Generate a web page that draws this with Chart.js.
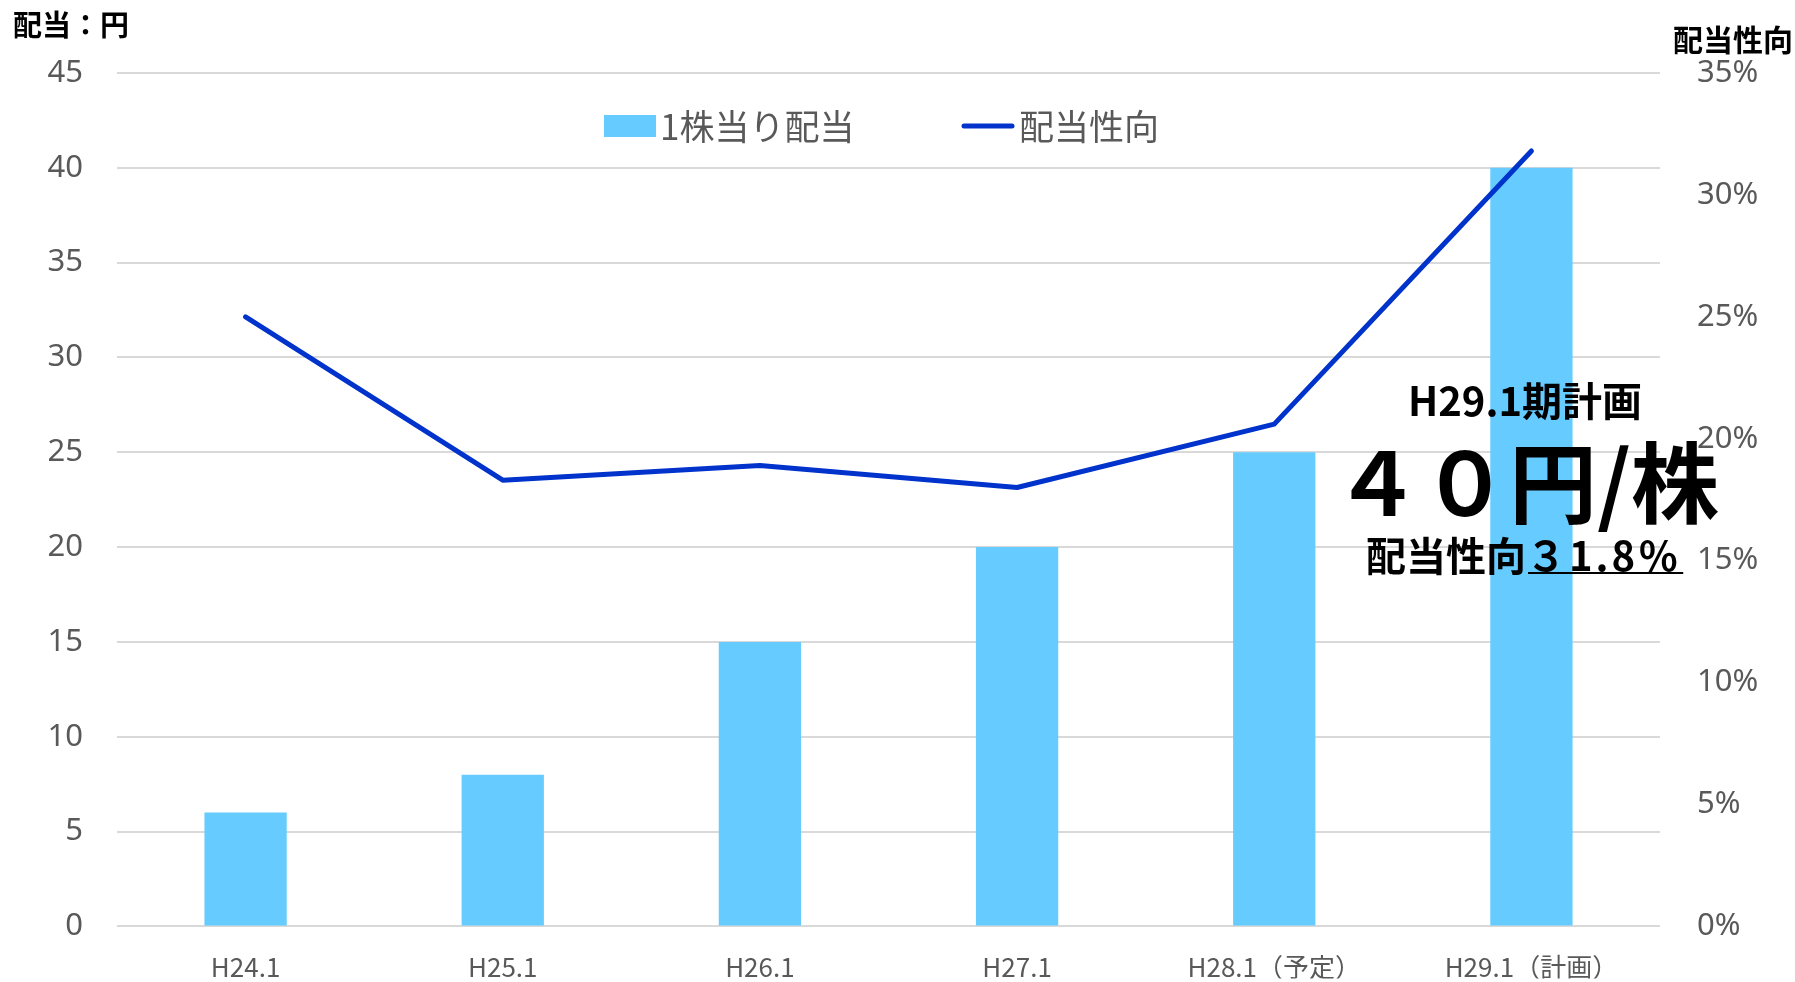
<!DOCTYPE html>
<html>
<head>
<meta charset="utf-8">
<script src="https://cdn.jsdelivr.net/npm/chart.js@4"></script>
<style>
    html, body { margin: 0; padding: 0; background: #fff; }
    #wrap { width: 1795px; height: 982px; }
</style>
</head>
<body>
<div id="wrap"><canvas id="dividend-chart" width="1795" height="982"></canvas></div>
<script>
// data
const categories = ["H24.1", "H25.1", "H26.1", "H27.1", "H28.1（予定）", "H29.1（計画）"];
const dividendPerShare = [6, 8, 15, 20, 25, 40];
const payoutRatio = [25.0, 18.3, 18.9, 18.0, 20.6, 31.8];
const leftTicks = [0, 5, 10, 15, 20, 25, 30, 35, 40, 45];
const rightTicks = [0, 5, 10, 15, 20, 25, 30, 35];

const barLabel = "1株当り配当";
const lineLabel = "配当性向";
const barColor = "#66CCFF";
const lineColor = "#0033CC";
const tickColor = "#595959";
const gridColor = "#D9D9D9";

// legend, axis titles and the callout text
const overlayPlugin = {
    id: "overlay",
    afterDraw(chart) {
        const c = chart.ctx;
        c.save();
        c.textBaseline = "middle";

        c.fillStyle = "#000";
        c.textAlign = "left";
        c.font = "bold 29px 'Noto Sans CJK JP'";
        c.fillText("配当：円", 13, 25);
        c.font = "bold 30px 'Noto Sans CJK JP'";
        c.fillText("配当性向", 1673, 40);

        // legend
        c.font = "35px 'Noto Sans CJK JP'";
        c.fillStyle = barColor;
        c.fillRect(604, 115, 52, 22);
        c.fillStyle = tickColor;
        c.fillText(barLabel, 660, 127);
        c.strokeStyle = lineColor;
        c.lineWidth = 5;
        c.lineCap = "round";
        c.beginPath();
        c.moveTo(964, 126);
        c.lineTo(1012, 126);
        c.stroke();
        c.fillText(lineLabel, 1019, 127);

        // callout
        c.fillStyle = "#000";
        c.textAlign = "center";
        c.font = "bold 40px 'Noto Sans CJK JP'";
        c.fillText("H29.1期計画", 1525, 401);
        c.font = "bold 88px 'Noto Sans CJK JP'";
        c.fillText("４０円/株", 1526, 483);

        c.textAlign = "left";
        c.font = "bold 40px 'Noto Sans CJK JP'";
        const head = "配当性向";
        const tail = "３1.8％";
        const x0 = 1366;
        const w1 = c.measureText(head).width;
        c.fillText(head, x0, 556);
        c.letterSpacing = "3px";
        c.fillText(tail, x0 + w1, 556);
        const w2 = c.measureText(tail).width;
        c.fillRect(x0 + w1 + 2, 572, w2, 2);
        c.restore();
    }
};

new Chart(document.getElementById("dividend-chart").getContext("2d"), {
    data: {
        labels: categories,
        datasets: [
            {
                type: "line",
                label: lineLabel,
                data: payoutRatio,
                yAxisID: "yRight",
                borderColor: lineColor,
                backgroundColor: lineColor,
                borderWidth: 5,
                borderCapStyle: "round",
                borderJoinStyle: "round",
                pointRadius: 0,
                tension: 0,
                order: 0
            },
            {
                type: "bar",
                label: barLabel,
                data: dividendPerShare,
                yAxisID: "yLeft",
                backgroundColor: barColor,
                borderWidth: 0,
                categoryPercentage: 1,
                barPercentage: 0.32,
                order: 1
            }
        ]
    },
    options: {
        responsive: false,
        animation: false,
        layout: { padding: { top: 73, left: 0, right: 0, bottom: 0 } },
        plugins: {
            legend: { display: false },
            tooltip: { enabled: false }
        },
        scales: {
            x: {
                grid: { display: false },
                border: { display: false },
                ticks: {
                    color: tickColor,
                    font: { family: "'Noto Sans CJK JP'", size: 26 },
                    padding: 17,
                    maxRotation: 0,
                    autoSkip: false
                },
                afterFit(scale) { scale.height = 52; }
            },
            yLeft: {
                position: "left",
                min: 0,
                max: 45,
                afterBuildTicks(scale) { scale.ticks = leftTicks.map(v => ({ value: v })); },
                grid: { color: gridColor, lineWidth: 2, drawTicks: false },
                border: { display: false },
                ticks: {
                    color: tickColor,
                    font: { family: "'Noto Sans'", size: 31 },
                    padding: 34
                },
                afterFit(scale) { scale.width = 117; }
            },
            yRight: {
                position: "right",
                min: 0,
                max: 35,
                afterBuildTicks(scale) { scale.ticks = rightTicks.map(v => ({ value: v })); },
                grid: { drawOnChartArea: false, drawTicks: false },
                border: { display: false },
                ticks: {
                    color: tickColor,
                    font: { family: "'Noto Sans'", size: 31 },
                    padding: 37,
                    callback: v => v + "%"
                },
                afterFit(scale) { scale.width = 135; }
            }
        }
    },
    plugins: [overlayPlugin]
});
</script>
</body>
</html>
